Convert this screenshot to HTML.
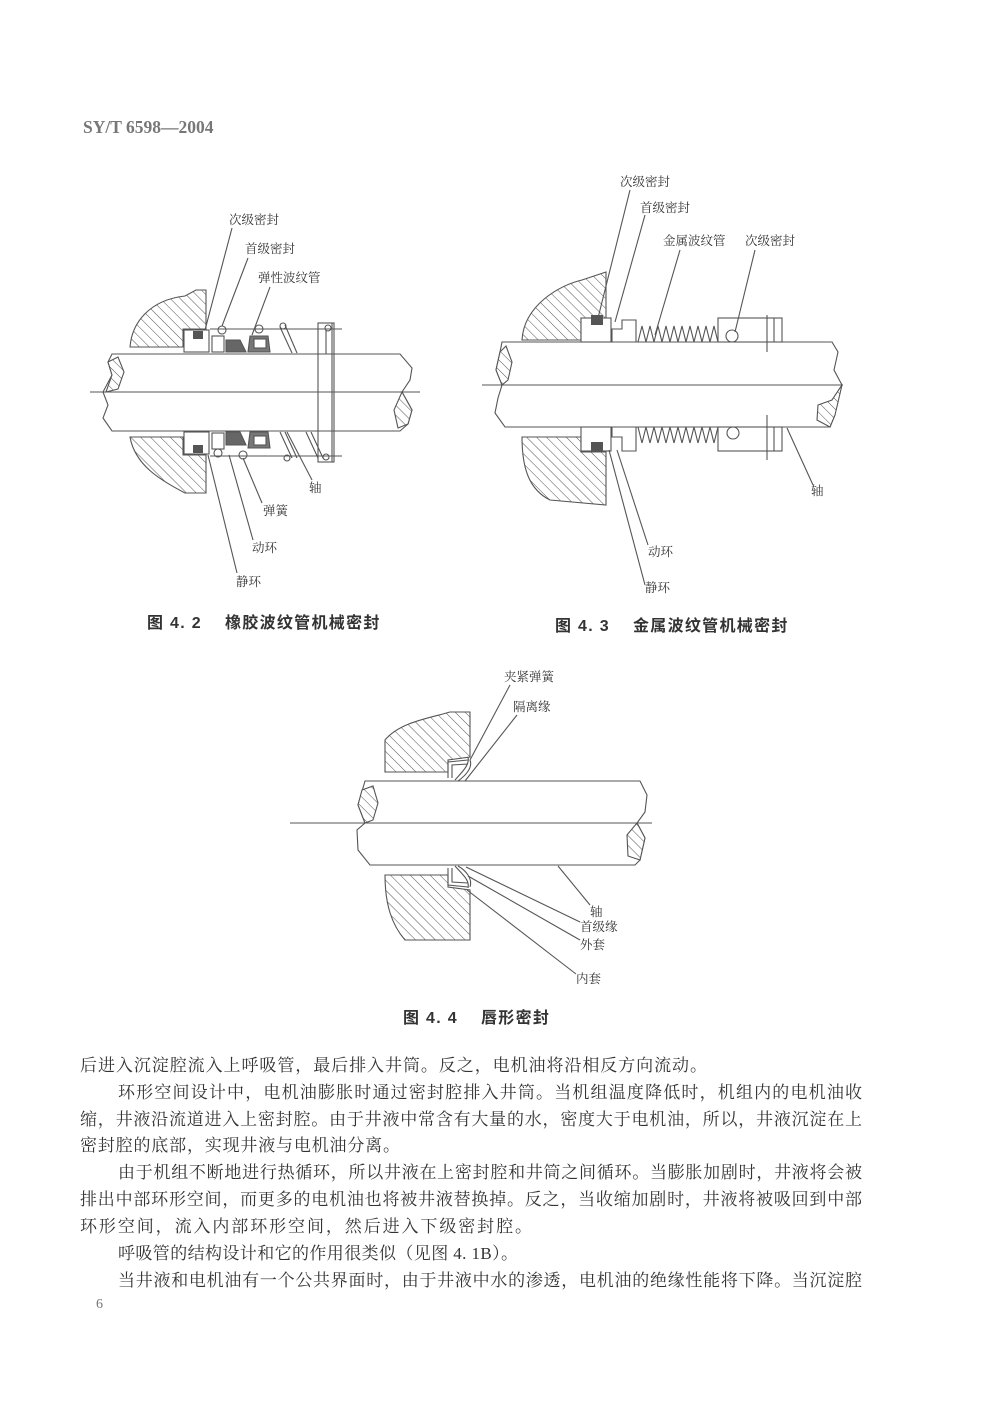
<!DOCTYPE html>
<html><head><meta charset="utf-8"><style>
html,body{margin:0;padding:0;background:#fff;}
body{width:986px;height:1400px;overflow:hidden;}
svg text{font-family:"Liberation Serif","Noto Serif CJK SC",serif;fill:#333;}
.l{font-size:12.5px;}
.b{font-size:17px;}
.c{font-size:16px;font-weight:bold;font-family:"Liberation Sans","Noto Sans CJK SC",sans-serif;fill:#333;letter-spacing:1.3px;}
</style></head><body>
<svg width="986" height="1400" viewBox="0 0 986 1400" xmlns="http://www.w3.org/2000/svg">
<defs>
<pattern id="h" patternUnits="userSpaceOnUse" width="7" height="7" patternTransform="rotate(-45)">
<rect width="7" height="7" fill="#fff"/><line x1="0" y1="0" x2="0" y2="7" stroke="#555" stroke-width="1"/>
</pattern>
</defs>
<text x="83" y="133" style="font-size:17.5px;font-weight:bold;fill:#777;font-family:'Liberation Serif',serif">SY/T 6598—2004</text>

<!-- ===== Fig 4.2 ===== -->
<g stroke="#555" stroke-width="1.1" fill="none">
<path d="M130,347 C132,322 150,300 185,296 L196,290 L206,290 L206,329 L183,329 L183,347 Z" fill="url(#h)"/>
<path d="M130,437 L183,437 L183,455 L206,455 L206,493 L185,493 C160,480 135,465 130,437 Z" fill="url(#h)"/>
<path d="M112,354 L400,354 L412,368 L410,380 L402,392 L412,410 L408,424 L400,431 L112,431 L103,418 L108,405 L103,392 L112,375 L108,362 Z" fill="#fff"/>
<path d="M108,362 L118,357 L124,372 L118,389 L106,392 L112,375 Z" fill="url(#h)"/>
<path d="M402,392 L412,410 L408,424 L398,428 L394,410 Z" fill="url(#h)"/>
<line x1="90" y1="392" x2="420" y2="392"/>
<line x1="210" y1="329" x2="342" y2="329"/><line x1="210" y1="456" x2="342" y2="456"/>
<rect x="184" y="330" width="25" height="22" fill="#fff"/>
<rect x="184" y="432" width="25" height="22" fill="#fff"/>
<rect x="212" y="336" width="12" height="16"/><rect x="212" y="433" width="12" height="16"/>
<path d="M226,340 L240,340 L246,352 L226,352 Z M226,432 L240,432 L246,445 L226,445 Z" fill="#666"/>
<path d="M250,336 L268,336 L270,352 L248,352 Z M250,432 L268,432 L270,448 L248,448 Z" fill="#777"/>
<rect x="254" y="339" width="12" height="9" fill="#fff"/><rect x="254" y="436" width="12" height="9" fill="#fff"/>
<circle cx="222" cy="330" r="4"/><circle cx="259" cy="329" r="4"/><circle cx="218" cy="453" r="4"/><circle cx="243" cy="455" r="4"/>
<path d="M280,327 L292,353 M285,325 L297,353 M280,432 L292,458 M285,432 L297,458 M306,432 L318,458 M311,432 L323,458"/>
<circle cx="283" cy="326" r="3"/><circle cx="287" cy="458" r="3"/>
<rect x="318" y="323" width="16" height="139"/><line x1="332" y1="323" x2="332" y2="462"/>
<line x1="326" y1="330" x2="326" y2="354"/>
<circle cx="326" cy="457" r="3"/><circle cx="328" cy="328" r="3"/>
<line x1="232" y1="228" x2="205" y2="330"/><line x1="248" y1="258" x2="222" y2="326"/>
<line x1="270" y1="287" x2="252" y2="335"/><line x1="312" y1="480" x2="287" y2="432"/>
<line x1="262" y1="503" x2="243" y2="458"/><line x1="253" y1="540" x2="229" y2="455"/>
<line x1="237" y1="573" x2="208" y2="455"/>
</g>
<rect x="193" y="331" width="10" height="8" fill="#555"/><rect x="193" y="445" width="10" height="8" fill="#555"/>
<text class="l" x="229" y="224">次级密封</text>
<text class="l" x="245" y="253">首级密封</text>
<text class="l" x="258" y="282">弹性波纹管</text>
<text class="l" x="309" y="492">轴</text>
<text class="l" x="263" y="515">弹簧</text>
<text class="l" x="252" y="552">动环</text>
<text class="l" x="236" y="586">静环</text>
<text class="c" x="147" y="628">图 4. 2　 橡胶波纹管机械密封</text>

<!-- ===== Fig 4.3 ===== -->
<g stroke="#555" stroke-width="1.1" fill="none">
<path d="M522,340 C524,305 560,285 582,280 L606,272 L606,318 L581,318 L581,340 Z" fill="url(#h)"/>
<path d="M522,437 L581,437 L581,452 L606,452 L606,505 L550,500 C530,490 522,470 522,437 Z" fill="url(#h)"/>
<path d="M502,342 L832,342 L838,352 L834,370 L842,385 L832,400 L835,415 L830,427 L505,427 L495,413 L498,398 L502,385 L496,370 L500,352 Z" fill="#fff"/>
<path d="M500,352 L506,346 L512,362 L508,380 L502,385 L496,370 Z" fill="url(#h)"/>
<path d="M832,400 L842,385 L835,415 L830,427 L817,420 L818,405 Z" fill="url(#h)"/>
<line x1="482" y1="385" x2="843" y2="385"/>
<rect x="581" y="318" width="30" height="24" fill="#fff"/><rect x="581" y="427" width="30" height="24" fill="#fff"/>
<path d="M612,329 L622,329 L622,320 L636,320 L636,342 L612,342 Z M612,427 L636,427 L636,451 L622,451 L622,437 L612,437 Z"/>
<polyline points="638,342 642,326 646,342 650,326 654,342 658,326 662,342 666,326 670,342 674,326 678,342 682,326 686,342 690,326 694,342 698,326 702,342 706,326 710,342 714,326 718,342"/>
<polyline points="638,427 642,443 646,427 650,443 654,427 658,443 662,427 666,443 670,427 674,443 678,427 682,443 686,427 690,443 694,427 698,443 702,427 706,443 710,427 714,443 718,427"/>
<rect x="718" y="318" width="64" height="24" fill="#fff"/><rect x="718" y="427" width="64" height="24" fill="#fff"/>
<circle cx="732" cy="336" r="6"/><circle cx="733" cy="433" r="6"/>
<line x1="767" y1="315" x2="767" y2="352"/><line x1="774" y1="318" x2="774" y2="342"/>
<line x1="767" y1="415" x2="767" y2="460"/><line x1="774" y1="427" x2="774" y2="451"/>
<line x1="630" y1="190" x2="597" y2="322"/><line x1="645" y1="215" x2="615" y2="322"/>
<line x1="680" y1="250" x2="655" y2="335"/><line x1="755" y1="250" x2="735" y2="332"/>
<line x1="813" y1="485" x2="787" y2="428"/><line x1="648" y1="545" x2="617" y2="450"/>
<line x1="645" y1="585" x2="609" y2="450"/>
</g>
<rect x="591" y="315" width="12" height="10" fill="#555"/><rect x="591" y="442" width="12" height="10" fill="#555"/>
<text class="l" x="620" y="186">次级密封</text>
<text class="l" x="640" y="212">首级密封</text>
<text class="l" x="663" y="245">金属波纹管</text>
<text class="l" x="745" y="245">次级密封</text>
<text class="l" x="811" y="495">轴</text>
<text class="l" x="648" y="556">动环</text>
<text class="l" x="645" y="592">静环</text>
<text class="c" x="555" y="631">图 4. 3　 金属波纹管机械密封</text>

<!-- ===== Fig 4.4 ===== -->
<g stroke="#555" stroke-width="1.1" fill="none">
<path d="M385,772 L385,740 C400,722 430,718 450,712 L470,712 L470,757 L448,760 L448,772 Z" fill="url(#h)"/>
<path d="M385,875 L448,875 L448,887 L470,890 L470,940 L405,940 C392,925 385,905 385,875 Z" fill="url(#h)"/>
<path d="M365,781 L640,781 L647,795 L645,812 L637,823 L645,838 L640,860 L635,865 L370,865 L358,850 L357,830 L365,823 L358,805 Z" fill="#fff"/>
<path d="M362,790 L373,786 L378,803 L373,820 L365,823 L358,805 Z" fill="url(#h)"/>
<path d="M637,823 L645,838 L640,860 L628,856 L627,835 Z" fill="url(#h)"/>
<line x1="290" y1="823" x2="652" y2="823"/>
<path d="M448,778 L448,762 L468,760 M452,778 L452,765 L468,764"/>
<path d="M455,780 C462,772 470,765 468,757 M458,781 C465,776 473,768 470,760"/>
<path d="M448,868 L448,885 L468,887 M452,868 L452,882 L468,883"/>
<path d="M455,866 C462,874 470,880 468,888 M458,866 C465,870 473,878 470,887"/>
<line x1="510" y1="685" x2="470" y2="760"/><line x1="517" y1="715" x2="465" y2="781"/>
<line x1="590" y1="905" x2="558" y2="866"/><line x1="580" y1="922" x2="466" y2="867"/>
<line x1="580" y1="940" x2="468" y2="876"/><line x1="576" y1="974" x2="467" y2="890"/>
</g>
<text class="l" x="504" y="681">夹紧弹簧</text>
<text class="l" x="513" y="711">隔离缘</text>
<text class="l" x="590" y="916">轴</text>
<text class="l" x="580" y="931">首级缘</text>
<text class="l" x="580" y="949">外套</text>
<text class="l" x="576" y="983">内套</text>
<text class="c" x="403" y="1023">图 4. 4　 唇形密封</text>

<!-- ===== Body text ===== -->
<text class="b" x="80" y="1071" textLength="627" lengthAdjust="spacing">后进入沉淀腔流入上呼吸管，最后排入井筒。反之，电机油将沿相反方向流动。</text>
<text class="b" x="118" y="1098" textLength="744" lengthAdjust="spacing">环形空间设计中，电机油膨胀时通过密封腔排入井筒。当机组温度降低时，机组内的电机油收</text>
<text class="b" x="80" y="1125" textLength="782" lengthAdjust="spacing">缩，井液沿流道进入上密封腔。由于井液中常含有大量的水，密度大于电机油，所以，井液沉淀在上</text>
<text class="b" x="80" y="1151" textLength="320" lengthAdjust="spacing">密封腔的底部，实现井液与电机油分离。</text>
<text class="b" x="118" y="1178" textLength="744" lengthAdjust="spacing">由于机组不断地进行热循环，所以井液在上密封腔和井筒之间循环。当膨胀加剧时，井液将会被</text>
<text class="b" x="80" y="1205" textLength="782" lengthAdjust="spacing">排出中部环形空间，而更多的电机油也将被井液替换掉。反之，当收缩加剧时，井液将被吸回到中部</text>
<text class="b" x="80" y="1232" textLength="452" lengthAdjust="spacing">环形空间，流入内部环形空间，然后进入下级密封腔。</text>
<text class="b" x="118" y="1259" textLength="400" lengthAdjust="spacing">呼吸管的结构设计和它的作用很类似（见图 4. 1B）。</text>
<text class="b" x="118" y="1286" textLength="744" lengthAdjust="spacing">当井液和电机油有一个公共界面时，由于井液中水的渗透，电机油的绝缘性能将下降。当沉淀腔</text>
<text x="96" y="1308" style="font-size:14px;fill:#777">6</text>
</svg>
</body></html>
